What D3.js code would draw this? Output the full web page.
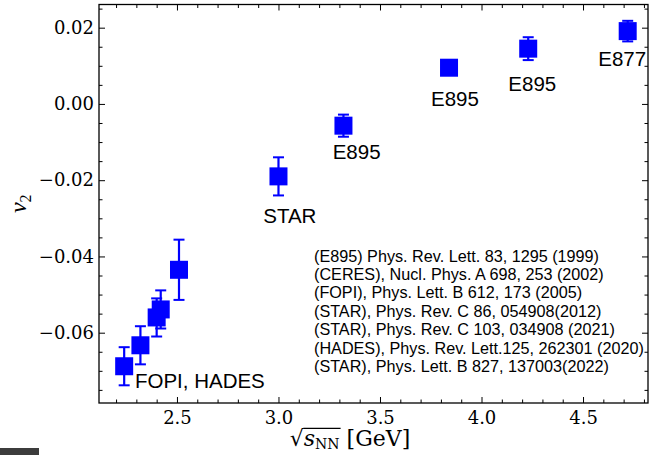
<!DOCTYPE html>
<html>
<head>
<meta charset="utf-8">
<script src="https://cdn.jsdelivr.net/npm/d3@7"></script>
<style>
  body { margin: 0; background: #fff; }
  svg { display: block; }
</style>
</head>
<body>
<svg id="chart" width="654" height="455"></svg>
<script>
// Elliptic flow v2 of protons vs collision energy
const energies = [2.24, 2.32, 2.40, 2.42, 2.51, 3.00, 3.32, 3.84, 4.23, 4.72];
const v2Values = [-0.0688, -0.0633, -0.0560, -0.0539, -0.0435, -0.0190, -0.0057, 0.0095, 0.0145, 0.0191];
const v2Errors = [0.0050, 0.0050, 0.0050, 0.0050, 0.0079, 0.0050, 0.0029, 0.0015, 0.0030, 0.0027];

const xTicks = [2.5, 3.0, 3.5, 4.0, 4.5];
const yTicks = [-0.06, -0.04, -0.02, 0.00, 0.02];

// experiment annotations (data coordinates of text start / baseline)
const experimentLabels = ["FOPI, HADES", "STAR", "E895", "E895", "E895", "E877"];
const labelX = [2.293, 2.925, 3.267, 3.751, 4.132, 4.575];
const labelY = [-0.0746, -0.0312, -0.0145, -0.0006, 0.0033, 0.0100];

const references = [
  "(E895) Phys. Rev. Lett. 83, 1295 (1999)",
  "(CERES), Nucl. Phys. A 698, 253 (2002)",
  "(FOPI), Phys. Lett. B 612, 173 (2005)",
  "(STAR), Phys. Rev. C 86, 054908(2012)",
  "(STAR), Phys. Rev. C 103, 034908 (2021)",
  "(HADES), Phys. Rev. Lett.125, 262301 (2020)",
  "(STAR), Phys. Lett. B 827, 137003(2022)"
];
const referencesAnchor = [3.175, -0.0414];

const W = 654, H = 455;
const plot = { left: 99, right: 648, top: 4.5, bottom: 403 };

const svg = d3.select("#chart");
svg.append("rect").attr("width", W).attr("height", H).attr("fill", "#fff");

const x = d3.scaleLinear().domain([2.116, 4.82]).range([plot.left, plot.right]);
const y = d3.scaleLinear().domain([-0.07844, 0.02608]).range([plot.bottom, plot.top]);

const xMinor = d3.range(22, 49).map(d => d / 10).filter(d => !xTicks.some(t => Math.abs(t - d) < 1e-9));
const yMinor = d3.range(-15, 6).map(d => d * 0.005).filter(d => !yTicks.some(t => Math.abs(t - d) < 1e-9));

const serif = "'DejaVu Serif', serif";
const sans = "'Liberation Sans', Arial, sans-serif";

function styleAxis(g) {
  g.select(".domain").remove();
  g.selectAll(".tick line").attr("stroke", "#000").attr("stroke-width", 1);
  g.selectAll(".tick text").attr("font-family", serif).attr("font-size", 18).attr("fill", "#000");
}

const axesG = svg.append("g");
const majorLen = -6, minorLen = -3.5;

// bottom
axesG.append("g").attr("transform", `translate(0,${plot.bottom})`)
  .call(d3.axisBottom(x).tickValues(xTicks).tickFormat(d3.format(".1f")).tickSize(majorLen).tickPadding(8))
  .call(styleAxis);
axesG.append("g").attr("transform", `translate(0,${plot.bottom})`)
  .call(d3.axisBottom(x).tickValues(xMinor).tickFormat("").tickSize(minorLen))
  .call(styleAxis);
// top
axesG.append("g").attr("transform", `translate(0,${plot.top})`)
  .call(d3.axisTop(x).tickValues(xTicks).tickFormat("").tickSize(majorLen))
  .call(styleAxis);
axesG.append("g").attr("transform", `translate(0,${plot.top})`)
  .call(d3.axisTop(x).tickValues(xMinor).tickFormat("").tickSize(minorLen))
  .call(styleAxis);
// left
axesG.append("g").attr("transform", `translate(${plot.left},0)`)
  .call(d3.axisLeft(y).tickValues(yTicks).tickFormat(d3.format(".2f")).tickSize(majorLen).tickPadding(5))
  .call(styleAxis);
axesG.append("g").attr("transform", `translate(${plot.left},0)`)
  .call(d3.axisLeft(y).tickValues(yMinor).tickFormat("").tickSize(minorLen))
  .call(styleAxis);
// right
axesG.append("g").attr("transform", `translate(${plot.right},0)`)
  .call(d3.axisRight(y).tickValues(yTicks).tickFormat("").tickSize(majorLen))
  .call(styleAxis);
axesG.append("g").attr("transform", `translate(${plot.right},0)`)
  .call(d3.axisRight(y).tickValues(yMinor).tickFormat("").tickSize(minorLen))
  .call(styleAxis);

// frame
svg.append("rect")
  .attr("x", plot.left).attr("y", plot.top)
  .attr("width", plot.right - plot.left).attr("height", plot.bottom - plot.top)
  .attr("fill", "none").attr("stroke", "#000").attr("stroke-width", 1.3);

// data: error bars + square markers
const blue = "#0000ff";
const markerSize = 18, capHalf = 5.5;
const points = energies.map((e, i) => ({ e, v: v2Values[i], err: v2Errors[i] }));
const ptG = svg.append("g");
points.forEach(p => {
  const g = ptG.append("g");
  const cx = x(p.e);
  g.append("line")
    .attr("x1", cx).attr("x2", cx)
    .attr("y1", y(p.v + p.err)).attr("y2", y(p.v - p.err))
    .attr("stroke", blue).attr("stroke-width", 2.2);
  [p.v + p.err, p.v - p.err].forEach(v => {
    g.append("line")
      .attr("x1", cx - capHalf).attr("x2", cx + capHalf)
      .attr("y1", y(v)).attr("y2", y(v))
      .attr("stroke", blue).attr("stroke-width", 2);
  });
  g.append("rect")
    .attr("x", cx - markerSize / 2).attr("y", y(p.v) - markerSize / 2)
    .attr("width", markerSize).attr("height", markerSize)
    .attr("fill", blue);
});

// experiment annotations
svg.append("g").selectAll("text").data(experimentLabels).join("text")
  .attr("x", (d, i) => x(labelX[i]))
  .attr("y", (d, i) => y(labelY[i]))
  .attr("font-family", sans).attr("font-size", 20.5).attr("fill", "#000")
  .text(d => d);

// references block
const refText = svg.append("text")
  .attr("x", x(referencesAnchor[0])).attr("y", y(referencesAnchor[1]))
  .attr("font-family", sans).attr("font-size", 16.2).attr("fill", "#000");
refText.selectAll("tspan").data(references).join("tspan")
  .attr("x", x(referencesAnchor[0]))
  .attr("dy", (d, i) => i === 0 ? 0 : 18.35)
  .text(d => d);

// y axis label: v_2
const yl = svg.append("text")
  .attr("transform", `translate(26,${(plot.top + plot.bottom) / 2}) rotate(-90)`)
  .attr("text-anchor", "middle")
  .attr("font-family", "'Liberation Serif', serif").attr("font-size", 24).attr("fill", "#000");
yl.append("tspan").attr("font-style", "italic").text("v");
yl.append("tspan").attr("font-size", 16).attr("dy", 5).text("2");

// x axis label: sqrt(s_NN) [GeV]
const xlBase = 446, xlSize = 22;
const xl = svg.append("text")
  .attr("x", 350).attr("y", xlBase)
  .attr("text-anchor", "middle")
  .attr("font-family", serif).attr("font-size", xlSize).attr("fill", "#000");
xl.append("tspan").text("\u221A");
xl.append("tspan").attr("font-style", "italic").text("s");
xl.append("tspan").attr("font-size", 14).attr("dy", 3).text("NN");
xl.append("tspan").attr("dy", -3).text(" [GeV]");
{
  const node = xl.node();
  const x0 = node.getEndPositionOfChar(0).x;
  const x1 = node.getEndPositionOfChar(3).x;
  const top = xlBase - xlSize * 0.80;
  svg.append("line").attr("x1", x0 - 0.5).attr("x2", x1 + 1)
    .attr("y1", top).attr("y2", top)
    .attr("stroke", "#000").attr("stroke-width", 1.1);
}

// small dark tab at lower-left corner
svg.append("rect").attr("x", 0).attr("y", 448).attr("width", 39).attr("height", 7).attr("fill", "#3c3c3c");
</script>
</body>
</html>
